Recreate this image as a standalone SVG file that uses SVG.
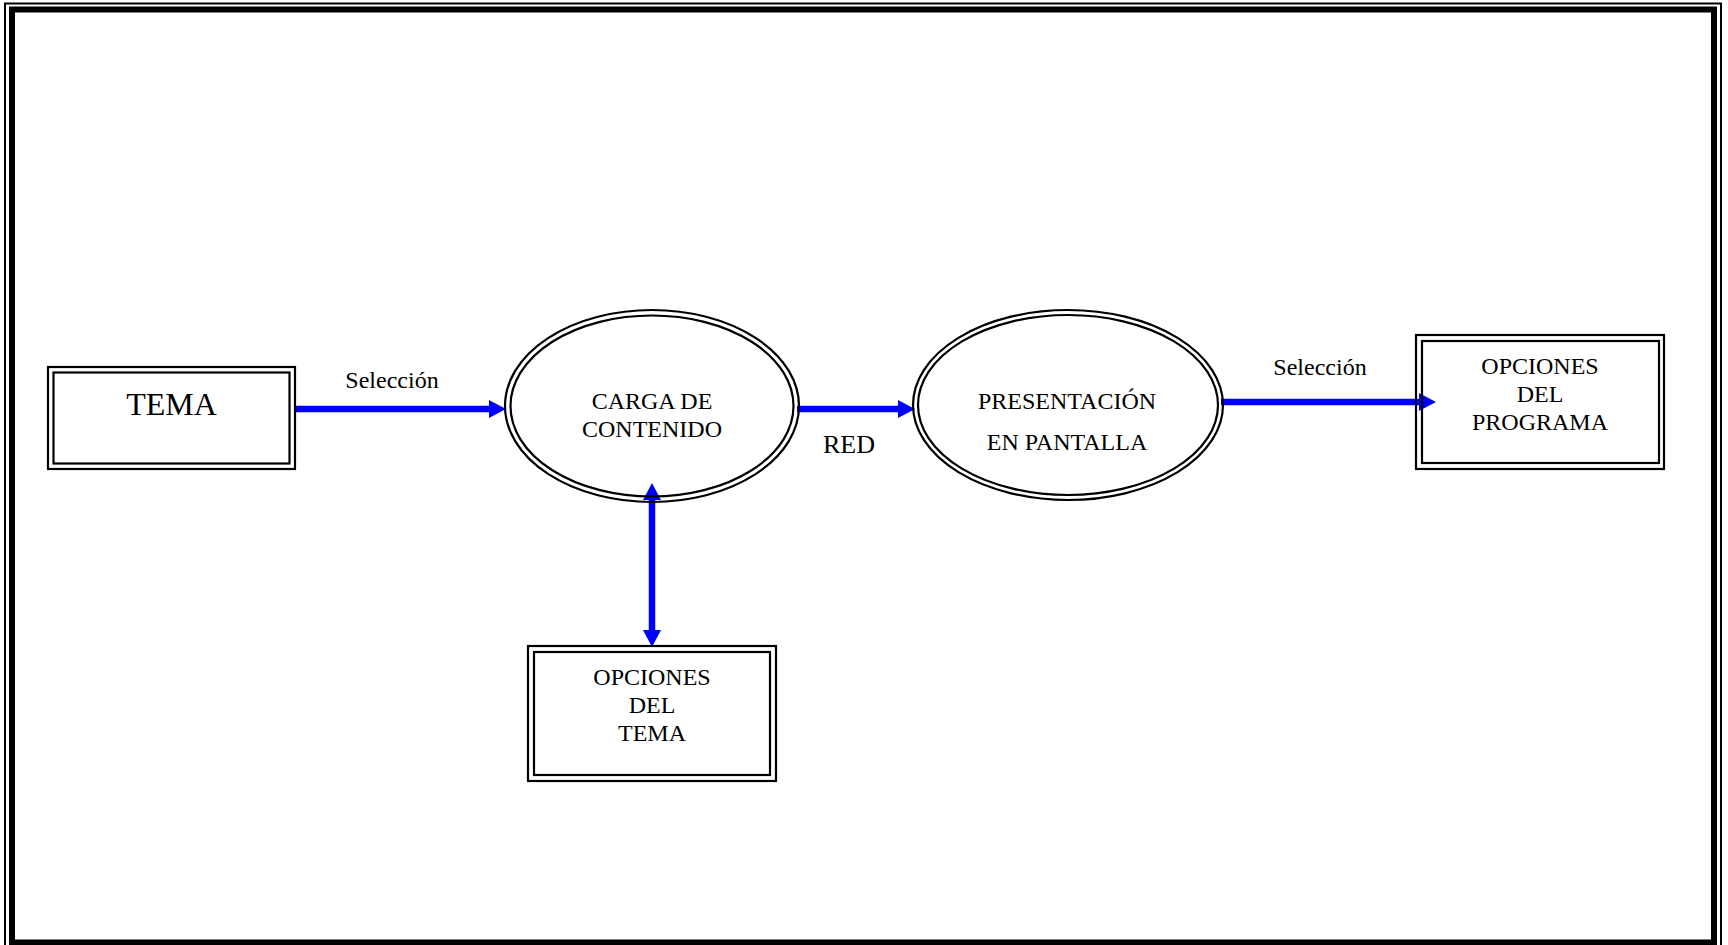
<svg xmlns="http://www.w3.org/2000/svg" width="1728" height="945" viewBox="0 0 1728 945">
<style>
.ln{fill:none;stroke:#000;stroke-width:2.2}
.t{font-family:"Liberation Serif","Times New Roman",serif;fill:#000;text-anchor:middle}
.s24{font-size:24px}
.conn{stroke:#0000FF;stroke-width:6.5;fill:none}
</style>
<defs>
<marker id="ah" markerUnits="userSpaceOnUse" markerWidth="18" markerHeight="19" refX="2" refY="9" orient="auto-start-reverse" viewBox="0 0 18 18">
<path d="M0,0 L17,9 L0,18 Z" fill="#0000FF"/>
</marker>
</defs>
<rect width="1728" height="945" fill="#fff"/>
<g id="frame">
<rect x="5" y="3.5" width="1716" height="960" fill="none" stroke="#000" stroke-width="2"/>
<rect x="12" y="9.5" width="1702" height="933" fill="none" stroke="#000" stroke-width="6"/>
</g>
<g id="connectors">
<line class="conn" x1="295" y1="409" x2="491" y2="409" marker-end="url(#ah)"/>
<line class="conn" x1="797" y1="409" x2="900" y2="409" marker-end="url(#ah)"/>
<line class="conn" x1="1221" y1="402" x2="1421" y2="402" marker-end="url(#ah)"/>
<line class="conn" x1="652" y1="498" x2="652" y2="632" marker-start="url(#ah)" marker-end="url(#ah)"/>
<text class="t s24" x="392" y="388">Selección</text>
<text class="t" x="849" y="453" font-size="26">RED</text>
<text class="t s24" x="1320" y="375">Selección</text>
</g>
<g id="tema">
<rect class="ln" x="48" y="367" width="247" height="102"/>
<rect class="ln" x="53.5" y="372.5" width="236" height="91"/>
<text class="t" x="171.5" y="415" font-size="32">TEMA</text>
</g>
<g id="carga">
<ellipse class="ln" cx="652" cy="406" rx="147" ry="96"/>
<ellipse class="ln" cx="652" cy="406" rx="141.5" ry="90.5"/>
<text class="t s24" x="652" y="409">CARGA DE</text>
<text class="t s24" x="652" y="437">CONTENIDO</text>
</g>
<g id="presentacion">
<ellipse class="ln" cx="1068" cy="405" rx="155" ry="95"/>
<ellipse class="ln" cx="1068" cy="405" rx="150" ry="90"/>
<text class="t s24" x="1067" y="409">PRESENTACIÓN</text>
<text class="t s24" x="1067" y="450">EN PANTALLA</text>
</g>
<g id="opciones-tema">
<rect class="ln" x="528" y="646" width="248" height="135"/>
<rect class="ln" x="534" y="652" width="236" height="123"/>
<text class="t s24" x="652" y="685">OPCIONES</text>
<text class="t s24" x="652" y="713">DEL</text>
<text class="t s24" x="652" y="741">TEMA</text>
</g>
<g id="opciones-programa">
<rect class="ln" x="1416" y="335" width="248" height="134"/>
<rect class="ln" x="1422" y="341" width="237" height="122"/>
<text class="t s24" x="1540" y="374">OPCIONES</text>
<text class="t s24" x="1540" y="402">DEL</text>
<text class="t s24" x="1540" y="430">PROGRAMA</text>
</g>
</svg>
